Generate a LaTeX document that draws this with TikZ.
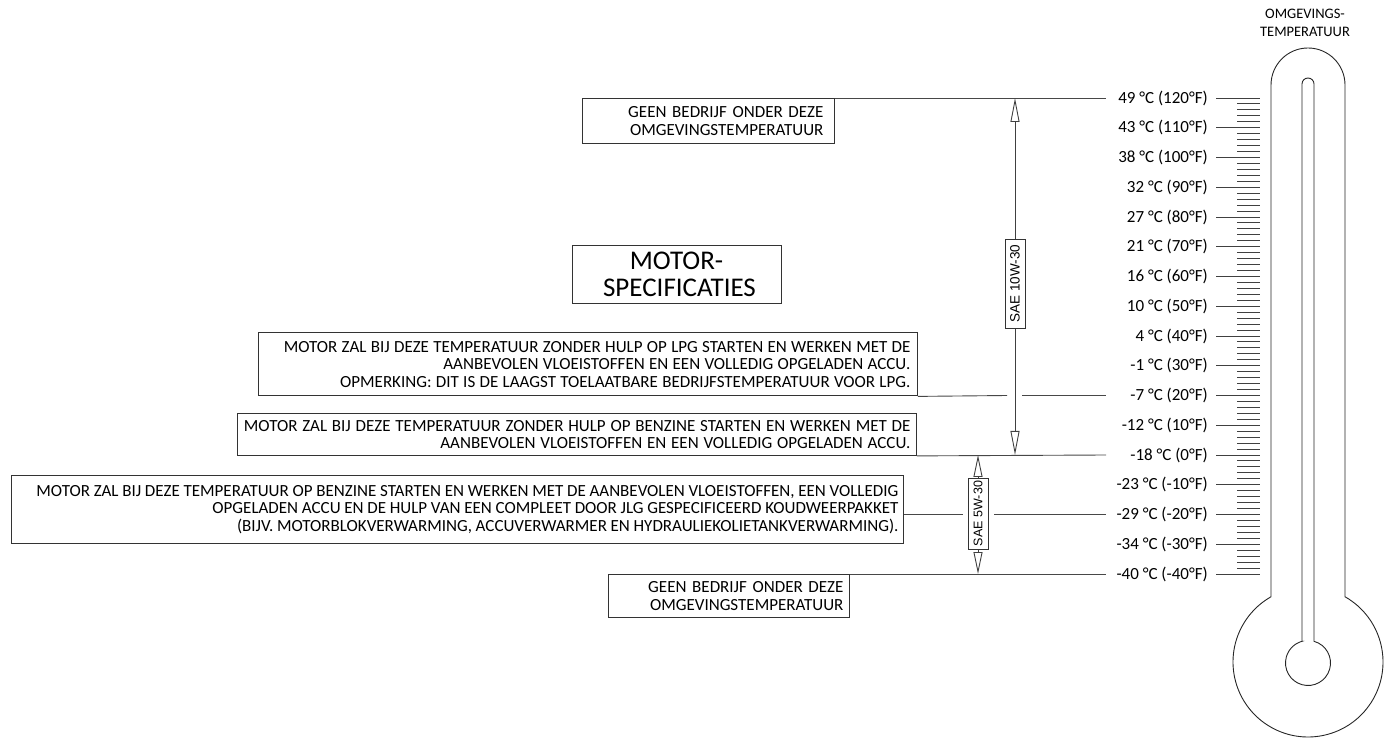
\documentclass[tikz,border=0pt]{standalone}
\usepackage{fontspec}
\setmainfont{Carlito}
\newfontfamily\saefont{Liberation Sans}
\usetikzlibrary{arrows.meta}
\newcommand{\rl}[1]{\makebox[\linewidth][r]{#1}}
\newcommand{\setsp}[1]{\spaceskip=#1\relax}
\begin{document}
\begin{tikzpicture}[x=1pt,y=1pt,
  ln/.style={line width=0.9pt, draw=black!72},
  box/.style={draw=black!80, line width=0.9pt, align=right, inner ysep=0pt, font=\fontsize{17}{17.5}\selectfont, anchor=north west},
  lbl/.style={anchor=east, font=\fontsize{17}{18}\selectfont, inner sep=0pt},
  tick/.style={line width=0.9pt, draw=black!75},
  therm/.style={line width=0.9pt, draw=black!85},
  dimA/.style={line width=0.9pt, draw=black!75, {Triangle[open,length=24pt,width=9pt]}-{Triangle[open,length=24pt,width=9pt]}},
  dimB/.style={line width=0.9pt, draw=black!75, {Triangle[open,length=22pt,width=9pt]}-{Triangle[open,length=22pt,width=9pt]}},
  sae/.style={draw=black!80, fill=white, line width=0.9pt, rotate=90, inner sep=0pt, minimum height=20pt}
]
\useasboundingbox (0,0) rectangle (1384,737);

% header
\node[font=\fontsize{14.5}{18}\selectfont, align=center] (hdr) at (1305,714) {OMGEVINGS-\\TEMPERATUUR};

% thermometer
\draw[therm] (1271,140.24) -- (1271,652) arc[start angle=180, end angle=0, radius=37]
  -- (1345,140.24) arc[start angle=60.44, end angle=-239.56, radius=75] -- cycle;
\draw[therm] (1302,95.69) -- (1302,653) arc[start angle=180, end angle=0, radius=6]
  -- (1314,95.69) arc[start angle=74.54, end angle=-254.54, radius=22.5] -- cycle;

% ticks
\foreach \k in {0,...,80}{
  \pgfmathsetmacro{\yy}{639-5.95*\k}
  \pgfmathtruncatemacro{\m}{mod(\k,5)}
  \ifnum\m=0
    \draw[tick] (1216,\yy) -- (1260,\yy);
  \else
    \draw[tick] (1237,\yy) -- (1260,\yy);
  \fi
}

% temperature labels and line end points
\foreach \i/\t in {0/{49 °C (120°F)},1/{43 °C (110°F)},2/{38 °C (100°F)},3/{32 °C (90°F)},
  4/{27 °C (80°F)},5/{21 °C (70°F)},6/{16 °C (60°F)},7/{10 °C (50°F)},8/{4 °C (40°F)},
  9/{-1 °C (30°F)},10/{-7 °C (20°F)},11/{-12 °C (10°F)},12/{-18 °C (0°F)},
  13/{-23 °C (-10°F)},14/{-29 °C (-20°F)},15/{-34 °C (-30°F)},16/{-40 °C (-40°F)}}{
  \pgfmathsetmacro{\yy}{639-29.75*\i}
  \node[lbl] (t\i) at (1208,\yy) {\t};
  \coordinate (e\i) at (1106,\yy);
}

% boxes
\node[box, text width=230pt, inner xsep=11pt, minimum height=45pt] (geen1) at (582,639)
  {\rl{GEEN BEDRIJF ONDER DEZE}\\\rl{OMGEVINGSTEMPERATUUR}};
\node[draw=black!80, line width=0.9pt, minimum width=209pt, minimum height=58pt, align=center,
  font=\fontsize{27}{27}\selectfont] (spec) at (676.5,463) {MOTOR-\\\hspace*{6pt}SPECIFICATIES};
\node[box, text width=645pt, inner xsep=7pt, minimum height=63pt] (lpg) at (258,404.5)
  {\setsp{4.3pt}\rl{MOTOR ZAL BIJ DEZE TEMPERATUUR ZONDER HULP OP LPG STARTEN EN WERKEN MET DE}\\
   \rl{AANBEVOLEN VLOEISTOFFEN EN EEN VOLLEDIG OPGELADEN ACCU.}\\
   \rl{OPMERKING: DIT IS DE LAAGST TOELAATBARE BEDRIJFSTEMPERATUUR VOOR LPG.}};
\node[box, text width=667pt, inner xsep=6pt, minimum height=42pt] (benz) at (237,324)
  {\setsp{4.8pt}\rl{MOTOR ZAL BIJ DEZE TEMPERATUUR ZONDER HULP OP BENZINE STARTEN EN WERKEN MET DE}\\
   \rl{AANBEVOLEN VLOEISTOFFEN EN EEN VOLLEDIG OPGELADEN ACCU.}};
\node[box, text width=882pt, inner xsep=5pt, minimum height=68pt] (big) at (11,262)
  {\setsp{3.7pt}\rl{MOTOR ZAL BIJ DEZE TEMPERATUUR OP BENZINE STARTEN EN WERKEN MET DE AANBEVOLEN VLOEISTOFFEN, EEN VOLLEDIG}\\
   \rl{OPGELADEN ACCU EN DE HULP VAN EEN COMPLEET DOOR JLG GESPECIFICEERD KOUDWEERPAKKET}\\
   \rl{(BIJV. MOTORBLOKVERWARMING, ACCUVERWARMER EN HYDRAULIEKOLIETANKVERWARMING).}};
\node[box, text width=229pt, inner xsep=6pt, minimum height=43pt] (geen2) at (608,163)
  {\rl{GEEN BEDRIJF ONDER DEZE}\\\rl{OMGEVINGSTEMPERATUUR}};

% level lines
\coordinate (g10a) at (1007,341.5);
\coordinate (g10b) at (1022,341.5);
\coordinate (g14a) at (963,222.5);
\coordinate (g14b) at (994,222.5);
\draw[ln] (geen1.north east) -- (e0);
\draw[ln] (lpg.south east) -- (g10a);
\draw[ln] (g10b) -- (e10);
\draw[ln] (benz.south east) -- (e12);
\draw[ln] (big.east |- g14a) -- (g14a);
\draw[ln] (g14b) -- (e14);
\draw[ln] (geen2.north east) -- (e16);

% dimension arrows
\coordinate (a1t) at (1015,639);
\coordinate (a1b) at (1015,282);
\coordinate (a2t) at (978,282);
\coordinate (a2b) at (978,163);
\draw[dimA] (a1t) -- (a1b);
\draw[dimB] (a2t) -- (a2b);
\node[sae, minimum width=89pt, font=\saefont\fontsize{13.5}{15}\selectfont] (sae10) at (1015,453.5) {SAE 10W-30};
\node[sae, minimum width=71pt, font=\saefont\fontsize{12.5}{14}\selectfont] (sae5) at (978,223.5) {SAE 5W-30};
\end{tikzpicture}
\end{document}
